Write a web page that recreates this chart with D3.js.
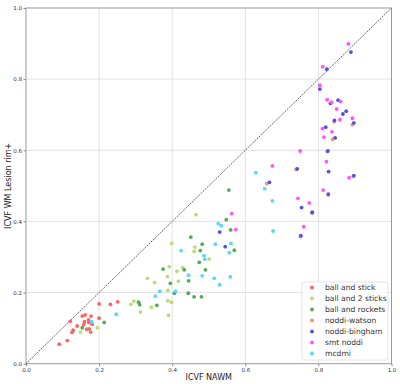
<!DOCTYPE html>
<html>
<head>
<meta charset="utf-8">
<script src="https://cdn.jsdelivr.net/npm/d3@7"></script>
<style>
  body { margin: 0; background: #fff; }
  svg { font-family: "DejaVu Sans", sans-serif; }
</style>
</head>
<body>
<svg id="chart" width="400" height="384"></svg>
<script>
// ICVF scatter: NAWM vs WM lesion rim+, one series per model

const seriesNames = ['ball and stick', 'ball and 2 sticks', 'ball and rockets',
    'noddi-watson', 'noddi-bingham', 'smt noddi', 'mcdmi'];
const seriesColors = ['#ff6464', '#bbdd77', '#55aa55', '#ee9966', '#5050f0', '#ff55ff', '#55d8ff'];

const ballStick = [
    [0.091, 0.055], [0.113, 0.065], [0.121, 0.119], [0.126, 0.088], [0.129, 0.094],
    [0.140, 0.106], [0.154, 0.134], [0.162, 0.137], [0.178, 0.134], [0.160, 0.118],
    [0.158, 0.110], [0.166, 0.097], [0.173, 0.098], [0.177, 0.089], [0.171, 0.123],
    [0.172, 0.116], [0.181, 0.111], [0.200, 0.168], [0.200, 0.128], [0.231, 0.167],
    [0.251, 0.174]
];
const ballTwoSticks = [
    [0.465, 0.419], [0.399, 0.338], [0.462, 0.328], [0.460, 0.316], [0.392, 0.273],
    [0.429, 0.270], [0.413, 0.260], [0.332, 0.240], [0.352, 0.228], [0.387, 0.245],
    [0.417, 0.232], [0.388, 0.206], [0.388, 0.177], [0.398, 0.173], [0.390, 0.136],
    [0.343, 0.159], [0.501, 0.294], [0.149, 0.089], [0.195, 0.101], [0.287, 0.167],
    [0.295, 0.176], [0.313, 0.145]
];
const ballRockets = [
    [0.555, 0.488], [0.548, 0.405], [0.560, 0.376], [0.570, 0.319], [0.451, 0.356],
    [0.482, 0.336], [0.477, 0.318], [0.474, 0.285], [0.491, 0.264], [0.433, 0.264],
    [0.375, 0.266], [0.445, 0.233], [0.395, 0.226], [0.406, 0.198], [0.444, 0.198],
    [0.460, 0.188], [0.480, 0.188], [0.358, 0.164], [0.308, 0.173], [0.311, 0.166],
    [0.214, 0.116], [0.154, 0.101]
];
const noddiWatson = [
    [0.739, 0.546], [0.659, 0.506], [0.843, 0.680], [0.839, 0.631], [0.893, 0.672],
    [0.824, 0.596], [0.895, 0.526], [0.827, 0.474], [0.783, 0.423], [0.751, 0.357]
];
const noddiBingham = [
    [0.889, 0.876], [0.823, 0.828], [0.804, 0.772], [0.833, 0.732], [0.854, 0.741],
    [0.876, 0.710], [0.867, 0.702], [0.844, 0.684], [0.897, 0.677], [0.820, 0.665],
    [0.846, 0.635], [0.826, 0.598], [0.828, 0.540], [0.897, 0.529], [0.827, 0.477],
    [0.742, 0.548], [0.666, 0.510], [0.754, 0.439], [0.783, 0.426], [0.752, 0.360],
    [0.530, 0.370], [0.545, 0.329]
];
const smtNoddi = [
    [0.882, 0.899], [0.812, 0.835], [0.804, 0.783], [0.824, 0.742], [0.836, 0.735],
    [0.861, 0.737], [0.850, 0.716], [0.859, 0.686], [0.893, 0.690], [0.811, 0.661],
    [0.837, 0.652], [0.815, 0.637], [0.822, 0.568], [0.884, 0.523], [0.813, 0.488],
    [0.750, 0.598], [0.674, 0.556], [0.744, 0.465], [0.775, 0.452], [0.760, 0.385],
    [0.563, 0.422], [0.574, 0.377]
];
const mcdmi = [
    [0.629, 0.537], [0.653, 0.492], [0.674, 0.458], [0.676, 0.373], [0.526, 0.394],
    [0.534, 0.388], [0.518, 0.336], [0.561, 0.338], [0.556, 0.312], [0.424, 0.318],
    [0.487, 0.304], [0.489, 0.294], [0.445, 0.249], [0.482, 0.247], [0.515, 0.240],
    [0.559, 0.244], [0.530, 0.222], [0.366, 0.204], [0.409, 0.204], [0.354, 0.190],
    [0.247, 0.139], [0.180, 0.118]
];
const seriesData = [ballStick, ballTwoSticks, ballRockets, noddiWatson, noddiBingham, smtNoddi, mcdmi];
const tickValues = [0, 0.2, 0.4, 0.6, 0.8, 1.0];

const svg = d3.select('#chart');
const margin = { top: 8, right: 8.5, bottom: 20.3, left: 26 };
const width = 400 - margin.left - margin.right;
const height = 384 - margin.top - margin.bottom;

const g = svg.append('g')
    .attr('transform', `translate(${margin.left},${margin.top})`);

const x = d3.scaleLinear().domain([0, 1]).range([0, width]);
const y = d3.scaleLinear().domain([0, 1]).range([height, 0]);

// Grid
g.append('g')
    .selectAll('line.vgrid')
    .data(tickValues.slice(1, -1))
    .enter()
    .append('line')
    .attr('x1', d => x(d)).attr('x2', d => x(d))
    .attr('y1', 0).attr('y2', height)
    .attr('stroke', '#e2e2e2').attr('stroke-width', 1);

g.append('g')
    .selectAll('line.hgrid')
    .data(tickValues.slice(1, -1))
    .enter()
    .append('line')
    .attr('x1', 0).attr('x2', width)
    .attr('y1', d => y(d)).attr('y2', d => y(d))
    .attr('stroke', '#e2e2e2').attr('stroke-width', 1);

// Axes
const xAxis = g.append('g')
    .attr('transform', `translate(0,${height})`)
    .call(d3.axisBottom(x).tickValues(tickValues).tickFormat(d3.format('.1f')).tickSize(2.5).tickPadding(1.5));
const yAxis = g.append('g')
    .call(d3.axisLeft(y).tickValues(tickValues).tickFormat(d3.format('.1f')).tickSize(2.5).tickPadding(1.5));

[xAxis, yAxis].forEach(a => {
    a.select('.domain').remove();
    a.selectAll('line').attr('stroke', '#888');
    a.selectAll('text')
        .style('font-size', '5.5px')
        .style('font-family', '"DejaVu Sans", sans-serif')
        .attr('fill', '#333');
});

// Frame
g.append('rect')
    .attr('width', width).attr('height', height)
    .attr('fill', 'none')
    .attr('stroke', '#999').attr('stroke-width', 1);

// Identity line
g.append('line')
    .attr('x1', x(0)).attr('y1', y(0))
    .attr('x2', x(1)).attr('y2', y(1))
    .attr('stroke', '#333').attr('stroke-width', 0.8)
    .attr('stroke-dasharray', '1.6,1');

// Points
seriesData.forEach((pts, i) => {
    g.selectAll(`.dot-${i}`)
        .data(pts)
        .enter()
        .append('circle')
        .attr('class', `dot-${i}`)
        .attr('cx', d => x(d[0]))
        .attr('cy', d => y(d[1]))
        .attr('r', 1.9)
        .attr('fill', seriesColors[i]);
});

// Axis labels
svg.append('text')
    .attr('x', margin.left + width / 2)
    .attr('y', 380)
    .style('text-anchor', 'middle')
    .style('font-size', '8px')
    .attr('fill', '#222')
    .text('ICVF NAWM');

svg.append('text')
    .attr('transform', 'rotate(-90)')
    .attr('x', -(margin.top + height / 2))
    .attr('y', 11)
    .style('text-anchor', 'middle')
    .style('font-size', '8px')
    .attr('fill', '#222')
    .text('ICVF WM Lesion rim+');

// Legend
const legend = svg.append('g').attr('transform', 'translate(302,282)');
legend.append('rect')
    .attr('width', 86).attr('height', 78)
    .attr('rx', 2)
    .attr('fill', '#fff').attr('fill-opacity', 0.85)
    .attr('stroke', '#ddd').attr('stroke-width', 0.8);

seriesNames.forEach((name, i) => {
    const row = legend.append('g').attr('transform', `translate(0,${5.5 + i * 11})`);
    row.append('circle')
        .attr('cx', 10).attr('cy', 0)
        .attr('r', 1.9)
        .attr('fill', seriesColors[i]);
    row.append('text')
        .attr('x', 23).attr('y', 0)
        .attr('dy', '0.35em')
        .style('font-size', '7.6px')
        .attr('fill', '#333')
        .text(name);
});
</script>
</body>
</html>
